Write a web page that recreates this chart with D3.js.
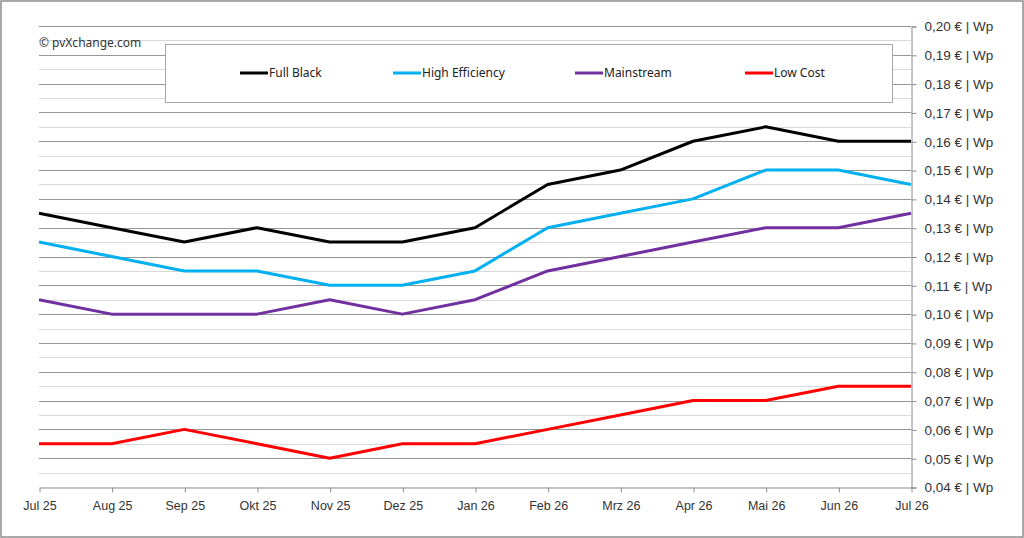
<!DOCTYPE html>
<html>
<head>
<meta charset="utf-8">
<script src="https://cdn.jsdelivr.net/npm/d3@7"></script>
<style>
  body { margin: 0; background: #fff; }
  svg { font-family: "Noto Sans", "Open Sans", sans-serif; }
</style>
</head>
<body>
<div id="chart"></div>
<script>
// Monate und Preise (€/Wp)
const months = ["Jul 25", "Aug 25", "Sep 25", "Okt 25", "Nov 25", "Dez 25", "Jan 26",
                "Feb 26", "Mrz 26", "Apr 26", "Mai 26", "Jun 26", "Jul 26"];
const fullBlack      = [0.135, 0.13, 0.125, 0.13, 0.125, 0.125, 0.13, 0.145, 0.15, 0.16, 0.165, 0.16, 0.16];
const highEfficiency = [0.125, 0.12, 0.115, 0.115, 0.11, 0.11, 0.115, 0.13, 0.135, 0.14, 0.15, 0.15, 0.145];
const mainstream     = [0.105, 0.10, 0.10, 0.10, 0.105, 0.10, 0.105, 0.115, 0.12, 0.125, 0.13, 0.13, 0.135];
const lowCost        = [0.055, 0.055, 0.06, 0.055, 0.05, 0.055, 0.055, 0.06, 0.065, 0.07, 0.07, 0.075, 0.075];
const yTicks = [0.04, 0.05, 0.06, 0.07, 0.08, 0.09, 0.10, 0.11, 0.12, 0.13, 0.14, 0.15, 0.16, 0.17, 0.18, 0.19, 0.20];

const series = [
  { name: "Full Black", values: fullBlack, color: "#000000" },
  { name: "High Efficiency", values: highEfficiency, color: "#00B0F0" },
  { name: "Mainstream", values: mainstream, color: "#7030A0" },
  { name: "Low Cost", values: lowCost, color: "#FF0000" }
];

const W = 1024, H = 538;
const plotL = 39, plotR = 911, plotT = 26, plotB = 487;

const svg = d3.select("#chart").append("svg")
  .attr("width", W)
  .attr("height", H);

// Rahmen
svg.append("rect")
  .attr("x", 1).attr("y", 1)
  .attr("width", W - 2).attr("height", H - 2)
  .attr("fill", "#fff")
  .attr("stroke", "#8c8c8c")
  .attr("stroke-width", 1.5);

const x = d3.scalePoint().domain(months).range([plotL, plotR]);
const y = d3.scaleLinear().domain([0.04, 0.20]).range([plotB, plotT]);

// Hilfslinien (0,005)
const minor = d3.range(0.045, 0.20, 0.01);
svg.append("g").selectAll("line")
  .data(minor)
  .join("line")
  .attr("x1", plotL).attr("x2", plotR)
  .attr("y1", d => Math.round(y(d)) + 0.5).attr("y2", d => Math.round(y(d)) + 0.5)
  .attr("stroke", "#d9d9d9");

// Hauptlinien
svg.append("g").selectAll("line")
  .data(yTicks.slice(1))
  .join("line")
  .attr("x1", plotL).attr("x2", plotR)
  .attr("y1", d => Math.round(y(d)) + 0.5).attr("y2", d => Math.round(y(d)) + 0.5)
  .attr("stroke", "#969696");

// Achsen
const fmt = d => d3.format(".2f")(d).replace(".", ",") + " € | Wp";
const yAxis = svg.append("g")
  .attr("transform", `translate(${plotR + 0.5},0.5)`)
  .call(d3.axisRight(y).tickValues(yTicks).tickFormat(fmt).tickSize(5).tickPadding(8));
yAxis.select(".domain").attr("stroke", "#8c8c8c");
yAxis.selectAll(".tick line").attr("stroke", "#8c8c8c");
yAxis.selectAll("text").attr("fill", "#333").style("font-size", "13.5px");

const xAxis = svg.append("g")
  .attr("transform", `translate(0.5,${plotB + 0.5})`)
  .call(d3.axisBottom(x).tickSize(5).tickPadding(9).tickSizeOuter(0));
xAxis.select(".domain").attr("stroke", "#8c8c8c");
xAxis.selectAll(".tick line").attr("stroke", "#8c8c8c");
xAxis.selectAll("text").attr("fill", "#333").style("font-size", "12.5px");

// Copyright
svg.append("text")
  .attr("x", plotL).attr("y", 47)
  .style("font-size", "12px")
  .attr("fill", "#333")
  .text("© pvXchange.com");

// Linien
const line = d3.line()
  .x((d, i) => x(months[i]))
  .y(d => y(d));

svg.append("g").selectAll("path")
  .data(series.slice().reverse())
  .join("path")
  .attr("d", d => line(d.values))
  .attr("fill", "none")
  .attr("stroke", d => d.color)
  .attr("stroke-width", 3)
  .attr("stroke-linejoin", "round");

// Legende
const legend = svg.append("g");
legend.append("rect")
  .attr("x", 165.5).attr("y", 44.5)
  .attr("width", 727).attr("height", 58)
  .attr("fill", "#fff")
  .attr("stroke", "#a6a6a6");

const legX = [240, 393, 575, 745];
const item = legend.selectAll("g.item")
  .data(series)
  .join("g")
  .attr("class", "item")
  .attr("transform", (d, i) => `translate(${legX[i]},73)`);
item.append("line")
  .attr("x1", 0).attr("x2", 28)
  .attr("stroke", d => d.color)
  .attr("stroke-width", 3);
item.append("text")
  .attr("x", 29).attr("dy", "0.35em")
  .style("font-size", "12px")
  .attr("fill", "#222")
  .text(d => d.name);
</script>
</body>
</html>
